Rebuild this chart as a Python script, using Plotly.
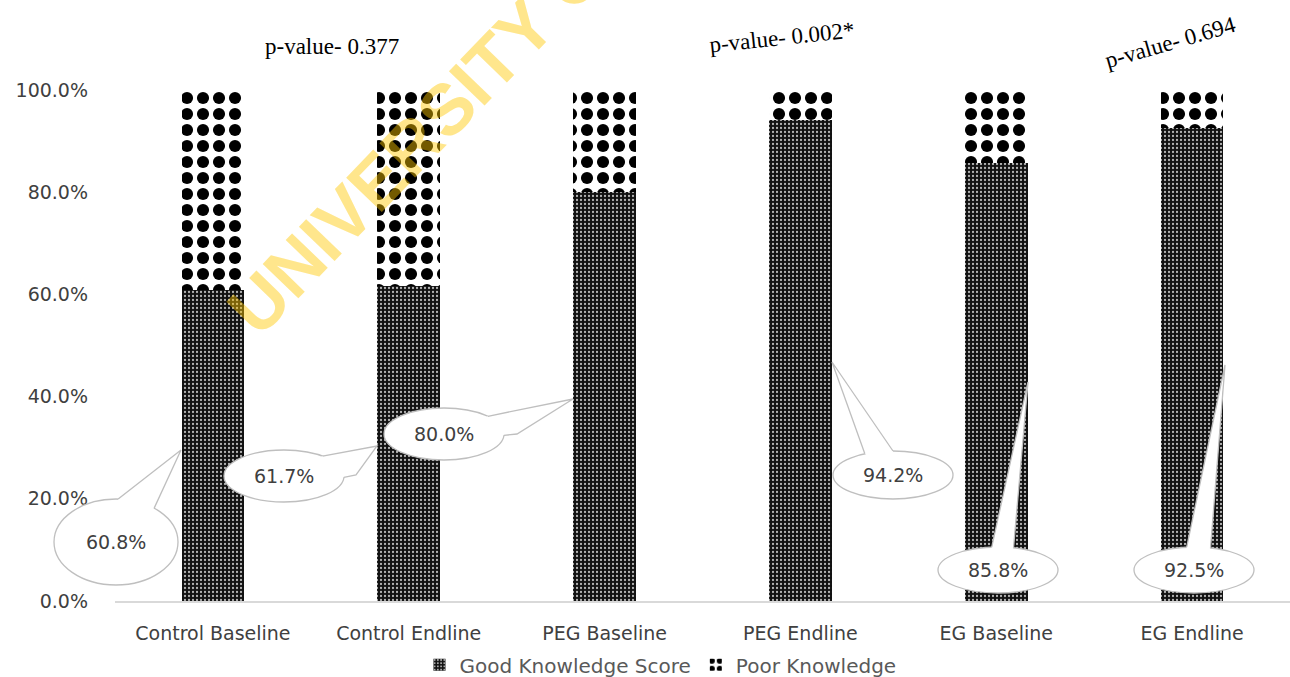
import math
import plotly.graph_objects as go

categories = ["Control Baseline", "Control Endline", "PEG Baseline",
              "PEG Endline", "EG Baseline", "EG Endline"]
good = [60.8, 61.7, 80.0, 94.2, 85.8, 92.5]
poor = [round(100 - g, 1) for g in good]
good_labels = ["60.8%", "61.7%", "80.0%", "94.2%", "85.8%", "92.5%"]
pvalue_texts = ["p-value- 0.377", "p-value- 0.002*", "p-value- 0.694"]
ytick_vals = [0, 20, 40, 60, 80, 100]
ytick_text = ["0.0%", "20.0%", "40.0%", "60.0%", "80.0%", "100.0%"]

W, H = 1290, 677
ML, MR, MT, MB = 115, 0, 90, 76
PW, PH = W - ML - MR, H - MT - MB


def px2p(px, py):
    return (px - ML) / PW, (H - MB - py) / PH


x_idx = list(range(len(categories)))
TXT = "#404040"
FONT = "DejaVu Sans"

fig = go.Figure()
fig.add_trace(go.Bar(
    x=x_idx, y=good, name="Good Knowledge Score", width=0.32,
    marker=dict(color="#111111", line=dict(width=0),
                pattern=dict(shape=".", bgcolor="#111111", fgcolor="#b4b4b4",
                             fgopacity=1, size=4, solidity=0.25)),
))
fig.add_trace(go.Bar(
    x=x_idx, y=poor, name="Poor Knowledge", width=0.32,
    marker=dict(color="white", line=dict(width=0),
                pattern=dict(shape=".", bgcolor="white", fgcolor="black",
                             fgopacity=1, size=16, solidity=0.45)),
))

# callouts: ellipse (cx, cy, rx, ry in px), tip px, base angles, optional notch
callouts = [
    dict(c=(116, 542, 62, 43), tip=(181, 450), a=(88, 52)),
    dict(c=(284, 476, 60, 26), tip=(377, 446), a=(50, -3), notch=(356, 475)),
    dict(c=(444, 434, 60, 26), tip=(573, 399), a=(43, -3), notch=(517, 434)),
    dict(c=(893, 475, 60, 24), tip=(832, 362), a=(118, 90)),
    dict(c=(998, 570, 60, 23), tip=(1028, 382), a=(96, 75)),
    dict(c=(1194, 570, 60, 23), tip=(1225, 365), a=(97, 74)),
]

shapes = []
annotations = []
LINE = "#bfbfbf"


def on_ell(cx, cy, rx, ry, ang, s=1.0):
    t = math.radians(ang)
    return cx + rx * s * math.cos(t), cy - ry * s * math.sin(t)


def path(pts, close=False):
    d = ""
    for i, (px, py) in enumerate(pts):
        x, y = px2p(px, py)
        d += ("M" if i == 0 else "L") + f"{x:.5f},{y:.5f} "
    return d + ("Z" if close else "")


for co, lab in zip(callouts, good_labels):
    cx, cy, rx, ry = co["c"]
    x0, y1 = px2p(cx - rx, cy - ry)
    x1, y0 = px2p(cx + rx, cy + ry)
    shapes.append(dict(type="circle", xref="paper", yref="paper", x0=x0, x1=x1, y0=y0, y1=y1,
                       fillcolor="white", line=dict(color=LINE, width=1.3), layer="above"))
    b1 = on_ell(cx, cy, rx, ry, co["a"][0])
    b2 = on_ell(cx, cy, rx, ry, co["a"][1])
    i1 = on_ell(cx, cy, rx, ry, co["a"][0], 0.85)
    i2 = on_ell(cx, cy, rx, ry, co["a"][1], 0.85)
    if "notch" in co:
        outline = [b1, co["tip"], co["notch"], b2]
        fillpts = [i1, b1, co["tip"], co["notch"], b2, i2]
    else:
        outline = [b1, co["tip"], b2]
        fillpts = [i1, b1, co["tip"], b2, i2]
    shapes.append(dict(type="path", xref="paper", yref="paper", path=path(fillpts, True),
                       fillcolor="white", line=dict(width=0), layer="above"))
    shapes.append(dict(type="path", xref="paper", yref="paper", path=path(outline),
                       line=dict(color=LINE, width=1.3), layer="above"))
    ax, ay = px2p(cx, cy)
    annotations.append(dict(x=ax, y=ay, xref="paper", yref="paper", text=lab, showarrow=False,
                            xanchor="center", yanchor="middle",
                            font=dict(family=FONT, size=19, color=TXT)))

# p-value texts
pv_pos = [((332, 47), 0), ((782, 37), -6), ((1170, 42), -16)]
for (pos, ang), txt in zip(pv_pos, pvalue_texts):
    px_, py_ = px2p(*pos)
    annotations.append(dict(x=px_, y=py_, xref="paper", yref="paper",
                            text=txt, showarrow=False, textangle=ang,
                            xanchor="center", yanchor="middle",
                            font=dict(family="Liberation Serif", size=23, color="black")))

# watermark
wx, wy = px2p(432, 124)
annotations.append(dict(x=wx, y=wy, xref="paper", yref="paper",
                        text="<b>UNIVERSITY OF</b>", showarrow=False, textangle=-46,
                        xanchor="center", yanchor="middle",
                        font=dict(family="Liberation Sans", size=72,
                                  color="rgba(255,200,0,0.45)")))

fig.update_layout(
    width=W, height=H,
    barmode="stack",
    paper_bgcolor="white", plot_bgcolor="white",
    margin=dict(l=ML, r=MR, t=MT, b=MB, autoexpand=False),
    showlegend=True,
    legend=dict(orientation="h", xref="container", yref="container",
                x=0.512, xanchor="center", y=0.018, yanchor="middle",
                font=dict(family=FONT, size=20, color="#595959"),
                itemwidth=30, traceorder="normal"),
    xaxis=dict(range=[-0.5, 5.5], tickvals=x_idx, ticktext=categories,
               showgrid=False, zeroline=False, showline=True, linecolor="#d9d9d9",
               linewidth=1.5, ticks="", ticklabelstandoff=14,
               tickfont=dict(family=FONT, size=19, color=TXT)),
    yaxis=dict(range=[0, 100.02], tickvals=ytick_vals, ticktext=ytick_text,
               showgrid=False, zeroline=False, showline=False, ticks="",
               ticklabelstandoff=26,
               tickfont=dict(family=FONT, size=19, color=TXT)),
    shapes=shapes,
    annotations=annotations,
)

fig.write_html("out.html", config={"displayModeBar": False},
               post_script="document.body.style.margin='0';")
